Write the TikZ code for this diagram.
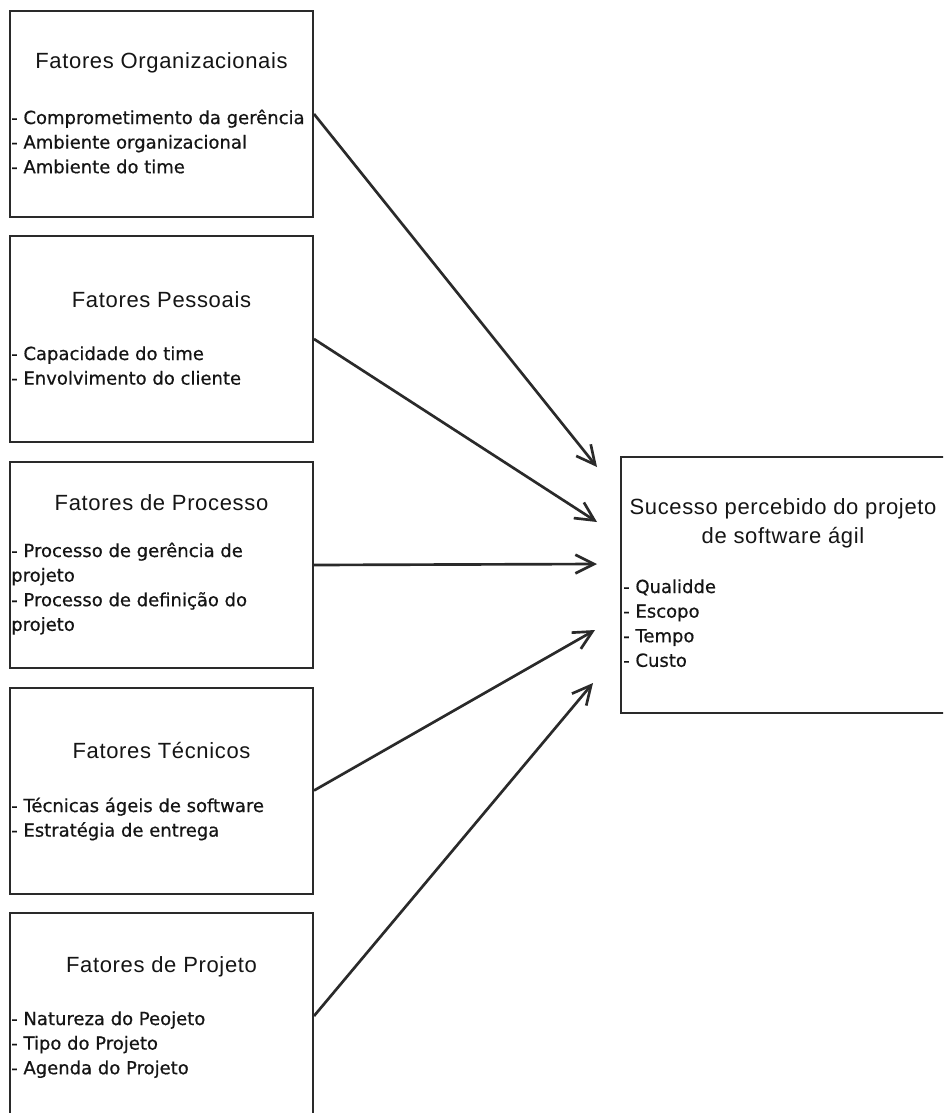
\documentclass[tikz,border=0pt]{standalone}
\usepackage{fontspec}
\setmainfont{Liberation Sans}
\newfontfamily\headfont[LetterSpace=3]{Liberation Sans}
\newfontfamily\itemfont[FakeBold=0.6]{DejaVu Sans}
\usetikzlibrary{arrows.meta}
\definecolor{inkline}{HTML}{2A2A2A}
\definecolor{inktext}{HTML}{151515}

\begin{document}
\begin{tikzpicture}[x=0.75pt,y=-0.75pt,
  box/.style={draw=inkline, line width=1.5pt, inner sep=0pt,
              minimum width=227.25pt, minimum height=154.5pt},
  resultbox/.style={draw=inkline, line width=1.5pt, inner sep=0pt,
              minimum width=254.25pt, minimum height=192pt},
  head/.style={anchor=base, inner sep=0pt, text=inktext,
               font=\headfont\fontsize{16.5}{21}\selectfont},
  items/.style={anchor=base west, inner sep=0pt, text=inktext,
                font=\itemfont\fontsize{13.5}{18.45}\selectfont},
  link/.style={draw=inkline, line width=2pt,
               -{Straight Barb[length=14pt,width=14pt]}}
]
\useasboundingbox (0,0) rectangle (943,1113);
\clip (0,0) rectangle (943,1113);
\fill[white] (0,0) rectangle (943,1113);

% factor boxes (left column)
\node[box] (b1) at (161.5,114) {};
\node[box] (b2) at (161.5,339) {};
\node[box] (b3) at (161.5,565) {};
\node[box] (b4) at (161.5,790.5) {};
\node[box] (b5) at (161.5,1016) {};

% outcome box (right, runs past the page edge)
\node[resultbox] (r) at (790.5,585) {};

% box headings
\node[head] (h1) at (161.5,69)  {Fatores Organizacionais};
\node[head] (h2) at (161.5,307) {Fatores Pessoais};
\node[head] (h3) at (161.5,510) {Fatores de Processo};
\node[head] (h4) at (161.5,758) {Fatores Técnicos};
\node[head] (h5) at (161.5,972) {Fatores de Projeto};
\node[head] (hr) at (783,514) {\begin{tabular}[t]{@{}c@{}}Sucesso percebido do projeto\\[1pt]de software ágil\end{tabular}};

% item lists
\node[items] (l1) at (11,124) {\begin{tabular}[t]{@{}l@{}}- Comprometimento da gerência\\- Ambiente organizacional\\- Ambiente do time\end{tabular}};
\node[items] (l2) at (11,360) {\begin{tabular}[t]{@{}l@{}}- Capacidade do time\\- Envolvimento do cliente\end{tabular}};
\node[items] (l3) at (11,557) {\begin{tabular}[t]{@{}l@{}}- Processo de gerência de\\projeto\\- Processo de definição do\\projeto\end{tabular}};
\node[items] (l4) at (11,812) {\begin{tabular}[t]{@{}l@{}}- Técnicas ágeis de software\\- Estratégia de entrega\end{tabular}};
\node[items] (l5) at (11,1025) {\begin{tabular}[t]{@{}l@{}}- Natureza do Peojeto\\- Tipo do Projeto\\- Agenda do Projeto\end{tabular}};
\node[items] (lr) at (623,593) {\begin{tabular}[t]{@{}l@{}}- Qualidde\\- Escopo\\- Tempo\\- Custo\end{tabular}};

% arrow tips, just left of the outcome box
\coordinate (e1) at (597,467);
\coordinate (e2) at (597,522);
\coordinate (e3) at (597,564);
\coordinate (e4) at (595,630);
\coordinate (e5) at (593,683);

\draw[link] (b1.east) -- (e1);
\draw[link] (b2.east) -- (e2);
\draw[link] (b3.east) -- (e3);
\draw[link] (b4.east) -- (e4);
\draw[link] (b5.east) -- (e5);
\end{tikzpicture}
\end{document}
